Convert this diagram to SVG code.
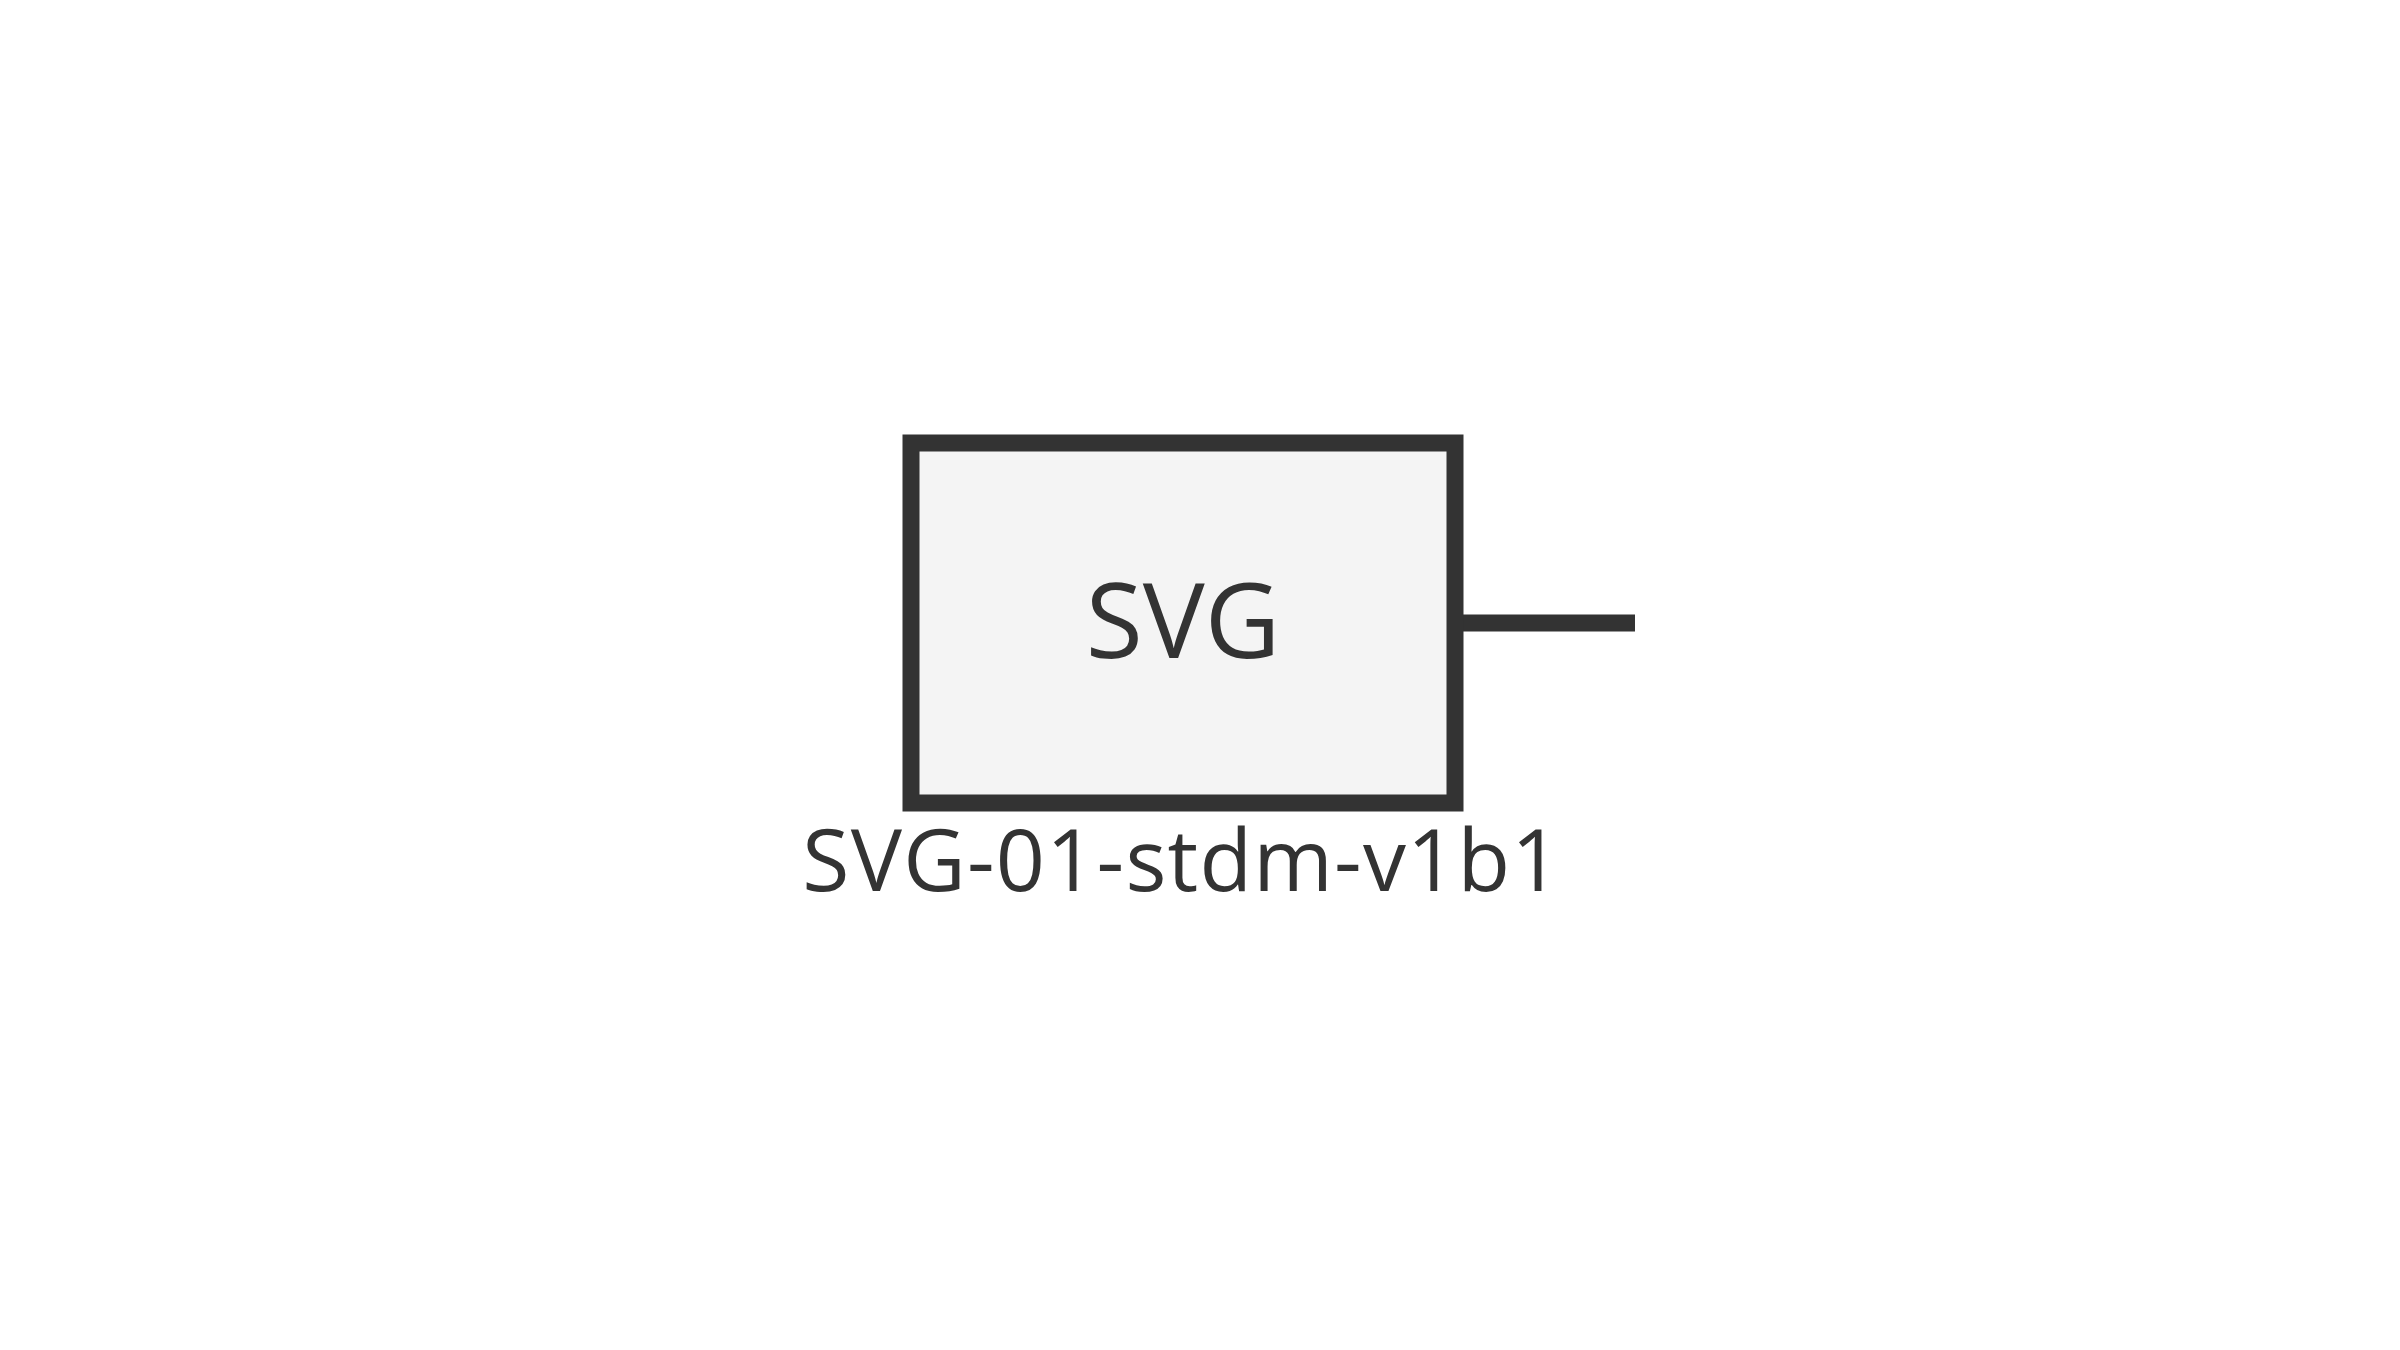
<svg xmlns="http://www.w3.org/2000/svg" width="2400" height="1350" viewBox="0 0 2400 1350">
<style>
.box{fill:#f4f4f4;stroke:#333333;stroke-width:17}
.conn{stroke:#333333;stroke-width:17;fill:none}
.t{font-family:"Open Sans","Noto Sans","DejaVu Sans",sans-serif;fill:#333333;text-anchor:middle}
</style>
<rect width="2400" height="1350" fill="#ffffff"/>
<g id="connectors">
<line class="conn" x1="1463" y1="623" x2="1635" y2="623"/>
</g>
<g id="node-svg">
<rect class="box" x="911" y="443" width="544" height="360"/>
<text class="t" x="1183" y="658" font-size="104">SVG</text>
<text class="t" x="1182" y="891" font-size="86" letter-spacing="1.2">SVG-01-stdm-v1b1</text>
</g>
</svg>
